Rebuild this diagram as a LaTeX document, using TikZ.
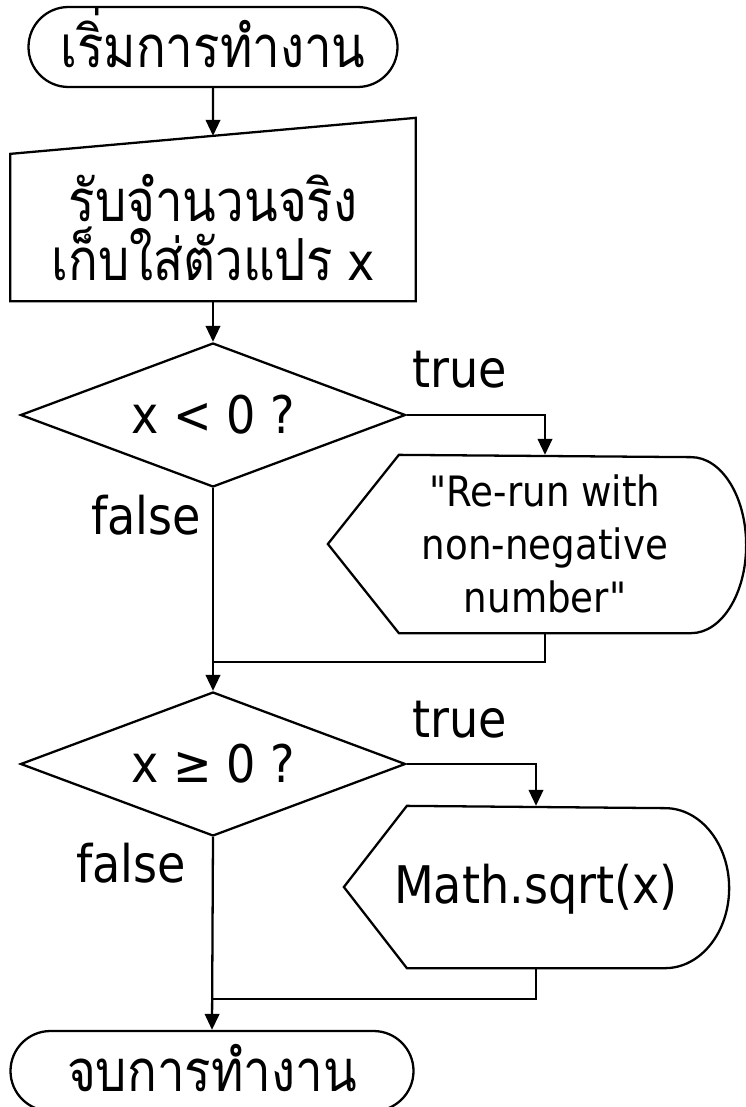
\documentclass[tikz,border=0pt]{standalone}
\usepackage{fontspec}
\setmainfont{DejaVu Sans}[FakeStretch=0.89,Ligatures=TeXOff]
\newfontfamily\thai[Script=Thai,FakeStretch=0.85]{Loma}
\usetikzlibrary{arrows.meta,positioning,shapes.geometric,shapes.misc,calc}
\newcommand{\bigtext}{\fontsize{29.5}{34}\selectfont}
\newcommand{\smalltext}{\fontsize{23.8}{30}\selectfont}
\newcommand{\thaitext}{\thai\fontsize{33}{34}\selectfont}
\tikzset{
  base/.style={draw=black,line width=1.3pt,align=center,inner sep=0pt,font=\bigtext},
  terminal/.style={base,rounded rectangle,minimum height=16mm,text height=25.8pt,text depth=2pt},
  inputbox/.style={base,draw=none,minimum width=80.6mm,minimum height=29mm},
  decision/.style={base,diamond,aspect=2.67,minimum width=77mm,minimum height=28.8mm},
  showbox/.style={base,draw=none},
  branch/.style={font=\bigtext,inner sep=0pt},
  flow/.style={-{Triangle[length=3.2mm,width=2.9mm]},line width=1.3pt},
  link/.style={line width=1.3pt}
}

\begin{document}
\begin{tikzpicture}[x=0.2mm,y=-0.2mm]
  \clip (0,0) rectangle (746,1107);
  \node[terminal,minimum width=73.8mm] (start) at (213,47) {\thaitext เริ่มการทำงาน};
  \node[inputbox] (read) at (213,227.5) {{\thaitext รับจำนวนจริง}\\{\thaitext เก็บใส่ตัวแปร} x};
  \coordinate (readNE) at ($(read.north east)+(0,-36)$);
  \coordinate (readTop) at ($(read.north west)!0.5!(readNE)$);
  \draw[link] (read.north west) -- (read.south west) -- (read.south east) -- (readNE) -- cycle;
  \node[decision] (neg) at (213,415) {x < 0 ?};
  \node[decision] (pos) at (213,764) {x ≥ 0 ?};
  \node[showbox,minimum width=58mm,minimum height=35.2mm,font=\smalltext] (warn) at (545,544) {"Re-run with\\non-negative\\number"};
  \draw[link] (warn.north west) -- ([xshift=-14.2mm]warn.west) -- (warn.south west) -- (warn.south east)
    arc[start angle=-90,end angle=90,x radius=11mm,y radius=17.6mm] -- cycle;
  \node[showbox,minimum width=51.2mm,minimum height=32mm,text depth=4pt] (root) at (536,887) {\makebox[0pt]{Math.sqrt(x)}};
  \draw[link] (root.north west) -- ([xshift=-12.6mm]root.west) -- (root.south west) -- (root.south east)
    arc[start angle=-90,end angle=90,x radius=12.8mm,y radius=16mm] -- cycle;
  \node[terminal,minimum width=80.6mm] (stop) at (212,1071) {\thaitext จบการทำงาน};
  % branch labels
  \node[branch] (true1) at (460,370) {true};
  \node[branch] (false1) at (146,515) {false};
  \node[branch] (true2) at (460,720) {true};
  \node[branch] (false2) at (131,863) {false};
  % connectors
  \coordinate (join1) at (213,662);
  \coordinate (join2) at (213,999);
  \draw[flow] (start) -- (readTop);
  \draw[flow] (read.south) -- (neg.north);
  \draw[flow] (neg.east) -| (warn.north);
  \draw[link] (warn.south) |- (join1);
  \draw[flow] (neg.south) -- (pos.north);
  \draw[flow] (pos.east) -| (root.north);
  \draw[link] (root.south) |- (join2);
  \draw[flow] (pos.south) -- (stop.north);
\end{tikzpicture}
\end{document}
